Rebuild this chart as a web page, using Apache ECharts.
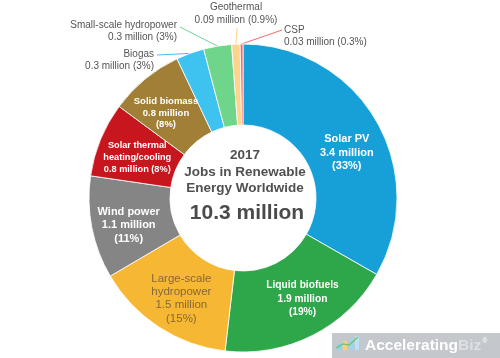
<!DOCTYPE html>
<html>
<head>
<meta charset="utf-8">
<script src="https://cdn.jsdelivr.net/npm/echarts@6/dist/echarts.min.js"></script>
<style>
html,body{margin:0;padding:0;background:#fff;}
#chart{width:500px;height:358px;}
</style>
</head>
<body>
<div id="chart"></div>
<script>
// ---- data ----
const categories = ['Solar PV','Liquid biofuels','Large-scale hydropower','Wind power','Solar thermal heating/cooling','Solid biomass','Biogas','Small-scale hydropower','Geothermal','CSP'];
const labelNames = ['Solar PV','Liquid biofuels','Large-scale\nhydropower','Wind power','Solar thermal\nheating/cooling','Solid biomass','Biogas','Small-scale hydropower','Geothermal','CSP'];
const jobsMillions = [3.4, 1.9, 1.5, 1.1, 0.8, 0.8, 0.3, 0.3, 0.09, 0.03];
const sharesPct = ['33%','19%','15%','11%','8%','8%','3%','3%','0.9%','0.3%'];
const totalText = '10.3 million';
const titleLines = ['2017','Jobs in Renewable','Energy Worldwide'];

// ---- styling ----
const colors = ['#17a0d7','#2ea64a','#f6b733','#858585','#c8161e','#a17f37','#3ec3f0','#6fd58b','#fdd48c','#ef6b70'];
const valueSameLine = [false,false,false,false,true,false,true,true,true,true];
const insideFont = {0: 11, 1: 10.2, 2: 11.5, 3: 11, 4: 9.2, 5: 9.5};
const insideLH = {0: 13.5, 1: 13.5, 2: 13.3, 3: 13.5, 4: 12, 5: 11.7};
const insideShift = {0: [3, 13], 1: [7, -3], 2: [2, 3], 3: [0, 5], 4: [2, 4], 5: [-3, 5]};
const outsideIdx = [6,7,8,9];
const outsidePos = {
  6: {x:154, y:60, align:'right', end:[157,55]},
  7: {x:177, y:31, align:'right', end:[180,27]},
  8: {x:236, y:13.5, align:'center', end:[237,28]},
  9: {x:284, y:36, align:'left', end:[282,30]}
};

const data = categories.map((c, i) => {
  const txt = labelNames[i] + '\n' + jobsMillions[i] + ' million' + (valueSameLine[i] ? ' ' : '\n') + '(' + sharesPct[i] + ')';
  const item = {
    name: c,
    value: jobsMillions[i],
    itemStyle: {color: colors[i]},
    label: {formatter: txt}
  };
  if (outsideIdx.includes(i)) {
    item.label = {
      formatter: txt, position: 'outside', color: '#555', fontWeight: 'normal',
      fontSize: 10, lineHeight: 12.5
    };
    item.labelLine = {show: true, lineStyle: {color: colors[i], width: 1}};
  } else {
    item.labelLine = {show: false};
    item.label.fontSize = insideFont[i];
    item.label.lineHeight = insideLH[i];
    if (i === 2) {
      item.label.color = '#86693a';
      item.label.fontWeight = 'normal';
    }
  }
  return item;
});

const chart = echarts.init(document.getElementById('chart'), null, {renderer: 'canvas'});
const cx = 243, cy = 198;
chart.setOption({
  animation: false,
  backgroundColor: '#ffffff',
  series: [{
    type: 'pie',
    center: [cx, cy],
    radius: [73, 154],
    startAngle: 90,
    clockwise: true,
    avoidLabelOverlap: false,
    minShowLabelAngle: 0,
    itemStyle: {borderColor: '#ffffff', borderWidth: 0.8},
    label: {
      show: true, position: 'inside', color: '#ffffff', fontWeight: 'bold',
      fontSize: 11, lineHeight: 13.5, fontFamily: 'Liberation Sans, Arial, sans-serif',
      align: 'center'
    },
    labelLine: {show: false},
    emphasis: {disabled: true},
    labelLayout: function (params) {
      const s = insideShift[params.dataIndex];
      if (s) return {dx: s[0], dy: s[1]};
      const p = outsidePos[params.dataIndex];
      if (!p) return {};
      const res = {x: p.x, y: p.y, align: p.align, verticalAlign: 'middle'};
      if (params.labelLinePoints && params.labelLinePoints[0]) {
        const a = params.labelLinePoints[0];
        res.labelLinePoints = [a, p.end, p.end];
      }
      return res;
    },
    data: data
  }],
  graphic: [
    {type: 'text', z: 10, style: {x: cx + 2, y: 155, text: titleLines[0], align: 'center', verticalAlign: 'middle', fill: '#505050', font: 'bold 13.5px "Liberation Sans", Arial, sans-serif'}},
    {type: 'text', z: 10, style: {x: cx + 2, y: 172, text: titleLines[1], align: 'center', verticalAlign: 'middle', fill: '#505050', font: 'bold 13.5px "Liberation Sans", Arial, sans-serif'}},
    {type: 'text', z: 10, style: {x: cx + 2, y: 188, text: titleLines[2], align: 'center', verticalAlign: 'middle', fill: '#505050', font: 'bold 13.5px "Liberation Sans", Arial, sans-serif'}},
    {type: 'text', z: 10, style: {x: cx + 4, y: 213, text: totalText, align: 'center', verticalAlign: 'middle', fill: '#4a4a4a', font: 'bold 21px "Liberation Sans", Arial, sans-serif'}},
    // watermark
    {type: 'rect', z: 20, shape: {x: 332, y: 333, width: 168, height: 25}, style: {fill: '#c4c7cb'}},
    {type: 'rect', z: 21, shape: {x: 337, y: 344, width: 4, height: 6}, style: {fill: '#8fd3ea'}},
    {type: 'rect', z: 21, shape: {x: 343, y: 341, width: 4, height: 9}, style: {fill: '#f3d27a'}},
    {type: 'rect', z: 21, shape: {x: 349, y: 338, width: 4, height: 12}, style: {fill: '#9ad6f0'}},
    {type: 'rect', z: 21, shape: {x: 355, y: 336, width: 4, height: 14}, style: {fill: '#b8e2f5'}},
    {type: 'polyline', z: 22, shape: {points: [[336, 348], [343, 344], [349, 345], [358, 337]]}, style: {stroke: '#6cc46f', lineWidth: 1.2, fill: null}},
    {type: 'text', z: 21, style: {x: 365, y: 346, verticalAlign: 'middle', align: 'left',
      text: '{a|Accelerating}{b|Biz}{r|®}',
      rich: {
        a: {fill: '#ffffff', font: 'bold 15.5px "Liberation Sans", Arial, sans-serif'},
        b: {fill: '#dde0e4', font: 'bold 15.5px "Liberation Sans", Arial, sans-serif'},
        r: {fill: '#ffffff', font: '7px "Liberation Sans", Arial, sans-serif', verticalAlign: 'top', padding: [0,0,8,1]}
      }}}
  ]
});
</script>
</body>
</html>
